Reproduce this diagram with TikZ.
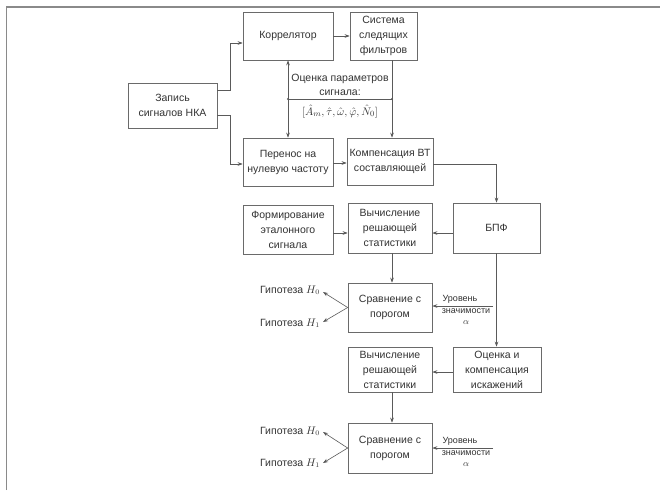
\documentclass[tikz,border=0pt]{standalone}
\usepackage{fontspec}
\setmainfont{Liberation Sans}
\usetikzlibrary{arrows.meta}
\definecolor{txt}{HTML}{333333}
\definecolor{edge}{HTML}{6A6A6A}
\definecolor{wire}{HTML}{5A5A5A}
\definecolor{frame}{HTML}{8A8A8A}
\begin{document}
\begin{tikzpicture}[x=1pt,y=-1pt,
  blk/.style={draw=edge, line width=0.7pt, fill=white, inner sep=0pt,
    align=center, text=txt, font=\fontsize{10.5}{15}\selectfont},
  note/.style={inner sep=0pt, align=center, text=txt, font=\fontsize{10.5}{14}\selectfont},
  small/.style={inner sep=0pt, align=center, text=txt, font=\fontsize{9}{11}\selectfont},
  link/.style={draw=wire, line width=0.6pt, -{Stealth[length=5pt,width=3.6pt]}},
  plain/.style={draw=wire, line width=0.6pt},
  dot/.style={circle, fill=wire, inner sep=0pt, minimum size=2.4pt}]
\useasboundingbox (0,0) rectangle (660,490);
\fill[white] (0,0) rectangle (660,490);
% page edge
\draw[frame, line width=1.3pt] (6.5,490) -- (6.5,7) -- (660,7);

% blocks
\node[blk, minimum width=90pt, minimum height=48pt] (korr) at (288,36) {Коррелятор};
\node[blk, minimum width=67pt, minimum height=48pt] (sist) at (383.5,36) {Система\\следящих\\фильтров};
\node[blk, minimum width=89pt, minimum height=45pt] (zap) at (172.5,105.5) {Запись\\сигналов НКА};
\node[blk, minimum width=90pt, minimum height=48pt] (per) at (288,162) {Перенос на\\нулевую частоту};
\node[blk, minimum width=86pt, minimum height=47pt] (komp) at (390,161.5) {Компенсация ВТ\\составляющей};
\node[blk, minimum width=90pt, minimum height=49pt] (form) at (288,229.5) {Формирование\\эталонного\\сигнала};
\node[blk, minimum width=84pt, minimum height=50pt] (vycha) at (390,228) {Вычисление\\решающей\\статистики};
\node[blk, minimum width=87pt, minimum height=50pt] (bpf) at (496.5,228) {БПФ};
\node[blk, minimum width=84pt, minimum height=49pt] (srava) at (390,307.5) {Сравнение с\\порогом};
\node[blk, minimum width=84pt, minimum height=45pt] (vychb) at (390,369.5) {Вычисление\\решающей\\статистики};
\node[blk, minimum width=88pt, minimum height=45pt] (ocen) at (497,369.5) {Оценка и\\компенсация\\искажений};
\node[blk, minimum width=84pt, minimum height=50pt] (sravb) at (390,448) {Сравнение с\\порогом};

% parameter estimate bus
\coordinate (pa) at (288,99);
\coordinate (pb) at (392,99);
\node[note, anchor=south] (est) at (340,96) {Оценка параметров\\сигнала:};
\node[note, anchor=north, font=\fontsize{11}{12}\selectfont] (vec) at (340,104.5)
  {$[\hat{A}_m, \hat{\tau}, \hat{\omega}, \hat{\varphi}, \hat{N}_0]$};
\draw[plain] (pa) -- (pb);
\draw[link] (pa) -- (korr.south -| pa);
\draw[link] (pa) -- (per.north -| pa);
\draw[link] (sist.south -| pb) -- (komp.north -| pb);
\node[dot] at (pa) {};
\node[dot] at (pb) {};

% signal path
\draw[link] (zap.east |- 0,90) -| (230,43) -- (korr.west |- 0,43);
\draw[link] (zap.east |- 0,115) -| (230,164) -- (per.west |- 0,164);
\draw[link] (korr) -- (sist);
\draw[link] (per.east |- 0,163) -- (komp.west |- 0,163);
\draw[link] (komp.east |- 0,164) -| (bpf.north);
\draw[link] (form.east |- 0,233) -- (vycha.west |- 0,233);
\draw[link] (bpf.west |- 0,233) -- (vycha.east |- 0,233);
\draw[link] (vycha.south -| pb) -- (srava.north -| pb);
\draw[link] (bpf.south) -- (ocen.north -| bpf.south);
\draw[link] (ocen.west |- 0,372) -- (vychb.east |- 0,372);
\draw[link] (vychb.south -| pb) -- (sravb.north -| pb);

% significance level inputs
\coordinate (la) at (493,306);
\coordinate (lb) at (493,448);
\draw[link] (la) -- (srava.east |- la);
\draw[link] (lb) -- (sravb.east |- lb);
\node[small, anchor=south] (lva) at (460,303.5) {Уровень};
\node[small, anchor=north] (lza) at (466,308.5) {значимости\\$\alpha$};
\node[small, anchor=south] (lvb) at (460,445.5) {Уровень};
\node[small, anchor=north] (lzb) at (466,450.5) {значимости\\$\alpha$};

% decisions
\node[note, anchor=base east] (hza) at (320,293) {Гипотеза $H_0$};
\node[note, anchor=base east] (hoa) at (320,326) {Гипотеза $H_1$};
\node[note, anchor=base east] (hzb) at (320,434) {Гипотеза $H_0$};
\node[note, anchor=base east] (hob) at (320,466) {Гипотеза $H_1$};
\draw[link] (srava.west) -- (323,292);
\draw[link] (srava.west) -- (323,322);
\draw[link] (sravb.west) -- (323,432);
\draw[link] (sravb.west) -- (323,463);
\end{tikzpicture}
\end{document}
